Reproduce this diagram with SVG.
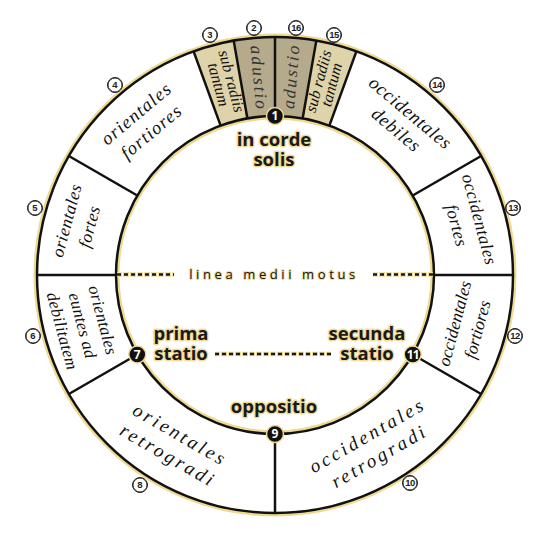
<svg xmlns="http://www.w3.org/2000/svg" width="550" height="550" viewBox="0 0 550 550">
<style>
.halo{fill:none;stroke:#efd991;stroke-width:3}
.ring{fill:none;stroke:#111;stroke-width:2.5}
.div{stroke:#111;stroke-width:2.5;fill:none}
.lab{font-family:"Liberation Serif","Times New Roman",serif;font-style:italic;fill:#111;text-anchor:middle}
.num circle{fill:#fff;stroke:#222;stroke-width:1}
.numh{fill:none;stroke:#efd991;stroke-width:3}
.numt{font-family:"Liberation Sans",Arial,sans-serif;font-weight:bold;font-size:9.5px;fill:#222;text-anchor:middle}
.node circle{fill:#111;stroke:#efd991;stroke-width:1.5}
.nodet{font-family:"Open Sans","Liberation Sans",sans-serif;font-weight:bold;font-size:12px;fill:#fff;text-anchor:middle}
.bold{font-family:"Open Sans","Liberation Sans",sans-serif;font-weight:700;font-size:18.5px;fill:#1a1a1a;text-anchor:middle;stroke:#f2dc9a;stroke-width:3;paint-order:stroke;stroke-linejoin:round}
.dots{stroke:#1a1a1a;stroke-width:2.5;stroke-dasharray:4 3;fill:none}
.dotsh{stroke:#f2dc9a;stroke-width:4.5;stroke-dasharray:6 1;stroke-dashoffset:1;fill:none}
.dark{fill:#b5aa8b}
.light{fill:#dfd3a9}
</style>
<rect x="0" y="0" width="550" height="550" fill="#fff"/>

<!-- tan sectors -->
<g id="sector3">
<path class="light" d="M193.60,51.35 A238,238 0 0 1 233.67,40.62 L247.39,118.42 A159,159 0 0 0 220.62,125.59 Z"/>
<text class="lab" font-size="16" transform="translate(223.6,83.3) rotate(75)"><tspan x="0" y="-3">sub radiis</tspan><tspan x="0" y="10.5">tantum</tspan></text>
</g>
<g id="sector2">
<path class="dark" d="M233.67,40.62 A238,238 0 0 1 275,37 L275,116 A159,159 0 0 0 247.39,118.42 Z"/>
<text class="lab" font-size="17.5" letter-spacing="2" style="fill:#333" transform="translate(257.7,77.3) rotate(85)" x="1" y="4.5">adustio</text>
</g>
<g id="sector16">
<path class="dark" d="M275,37 A238,238 0 0 1 316.33,40.62 L302.61,118.42 A159,159 0 0 0 275,116 Z"/>
<text class="lab" font-size="17.5" letter-spacing="2" style="fill:#333" transform="translate(292.3,77.3) rotate(-85)" x="1" y="4.5">adustio</text>
</g>
<g id="sector15">
<path class="light" d="M316.33,40.62 A238,238 0 0 1 356.40,51.35 L329.38,125.59 A159,159 0 0 0 302.61,118.42 Z"/>
<text class="lab" font-size="16" transform="translate(326.4,83.3) rotate(-75)"><tspan x="0" y="-3">sub radiis</tspan><tspan x="0" y="10.5">tantum</tspan></text>
</g>

<!-- rings and dividers -->
<g id="connectors">
<circle class="halo" cx="275" cy="275" r="240"/>
<circle class="halo" cx="275" cy="275" r="157"/>
<circle class="ring" cx="275" cy="275" r="238"/>
<circle class="ring" cx="275" cy="275" r="159"/>
<line class="div" x1="275" y1="37" x2="275" y2="116"/>
<line class="div" x1="233.67" y1="40.62" x2="247.39" y2="118.42"/>
<line class="div" x1="316.33" y1="40.62" x2="302.61" y2="118.42"/>
<line class="div" x1="193.60" y1="51.35" x2="220.62" y2="125.59"/>
<line class="div" x1="356.40" y1="51.35" x2="329.38" y2="125.59"/>
<line class="div" x1="481.11" y1="156" x2="412.70" y2="195.5"/>
<line class="div" x1="68.89" y1="156" x2="137.30" y2="195.5"/>
<line class="div" x1="513" y1="275" x2="434" y2="275"/>
<line class="div" x1="37" y1="275" x2="116" y2="275"/>
<line class="div" x1="481.11" y1="394" x2="412.70" y2="354.5"/>
<line class="div" x1="68.89" y1="394" x2="137.30" y2="354.5"/>
<line class="div" x1="275" y1="513" x2="275" y2="434"/>
<line class="dotsh" x1="117" y1="274.5" x2="174" y2="274.5"/>
<line class="dots" x1="117" y1="274.5" x2="174" y2="274.5"/>
<line class="dotsh" x1="373" y1="274.5" x2="433" y2="274.5"/>
<line class="dots" x1="373" y1="274.5" x2="433" y2="274.5"/>
<line class="dotsh" x1="215" y1="354" x2="331" y2="354"/>
<line class="dots" x1="215" y1="354" x2="331" y2="354"/>
</g>

<g id="sector4"><text class="lab" font-size="18.5" letter-spacing="1.2" transform="translate(145,124) rotate(-40)"><tspan x="0" y="-7.5">orientales</tspan><tspan x="0" y="16">fortiores</tspan></text></g>
<g id="sector5"><text class="lab" font-size="17.5" letter-spacing="0.5" transform="translate(80,224) rotate(-75)"><tspan x="0" y="-8">orientales</tspan><tspan x="0" y="15.5">fortes</tspan></text></g>
<g id="sector6"><text class="lab" font-size="17" letter-spacing="0.3" transform="translate(81,326) rotate(75)"><tspan x="0" y="-17">orientales</tspan><tspan x="0" y="4">euntes ad</tspan><tspan x="0" y="25">debilitatem</tspan></text></g>
<g id="sector8"><text class="lab" font-size="19" letter-spacing="3" transform="translate(172,446) rotate(30)"><tspan x="1.5" y="-7.5">orientales</tspan><tspan x="1.5" y="16.5">retrogradi</tspan></text></g>
<g id="sector10"><text class="lab" font-size="19" letter-spacing="3" transform="translate(373,448) rotate(-30)"><tspan x="1.5" y="-7.5">occidentales</tspan><tspan x="1.5" y="16.5">retrogradi</tspan></text></g>
<g id="sector12"><text class="lab" font-size="17.5" transform="translate(468,327) rotate(-75)"><tspan x="0" y="-8">occidentales</tspan><tspan x="0" y="15.5">fortiores</tspan></text></g>
<g id="sector13"><text class="lab" font-size="17.5" letter-spacing="0.5" transform="translate(466,223) rotate(75)"><tspan x="0" y="-8">occidentales</tspan><tspan x="0" y="15.5">fortes</tspan></text></g>
<g id="sector14"><text class="lab" font-size="18.5" letter-spacing="0.8" transform="translate(402,123) rotate(40)"><tspan x="0" y="-7">occidentales</tspan><tspan x="0" y="15">debiles</tspan></text></g>

<!-- numbers on rim -->
<g class="num">
<g id="n2"><circle class="numh" cx="254" cy="28" r="7.5"/><circle cx="254" cy="28" r="7"/><text class="numt" x="254" y="31.4">2</text></g>
<g id="n3"><circle class="numh" cx="210" cy="35" r="7.5"/><circle cx="210" cy="35" r="7"/><text class="numt" x="210" y="38.4">3</text></g>
<g id="n4"><circle class="numh" cx="115" cy="85" r="7.5"/><circle cx="115" cy="85" r="7"/><text class="numt" x="115" y="88.4">4</text></g>
<g id="n5"><circle class="numh" cx="35" cy="208" r="7.5"/><circle cx="35" cy="208" r="7"/><text class="numt" x="35" y="211.4">5</text></g>
<g id="n6"><circle class="numh" cx="33" cy="336" r="7.5"/><circle cx="33" cy="336" r="7"/><text class="numt" x="33" y="339.4">6</text></g>
<g id="n8"><circle class="numh" cx="140" cy="485" r="7.5"/><circle cx="140" cy="485" r="7"/><text class="numt" x="140" y="488.4">8</text></g>
<g id="n10"><circle class="numh" cx="410" cy="483" r="7.5"/><circle cx="410" cy="483" r="7"/><text class="numt" x="410" y="486.4" font-size="9" letter-spacing="-0.6">10</text></g>
<g id="n12"><circle class="numh" cx="515" cy="336" r="7.5"/><circle cx="515" cy="336" r="7"/><text class="numt" x="515" y="339.4" font-size="9" letter-spacing="-0.6">12</text></g>
<g id="n13"><circle class="numh" cx="513" cy="208" r="7.5"/><circle cx="513" cy="208" r="7"/><text class="numt" x="513" y="211.4" font-size="9" letter-spacing="-0.6">13</text></g>
<g id="n14"><circle class="numh" cx="437" cy="85" r="7.5"/><circle cx="437" cy="85" r="7"/><text class="numt" x="437" y="88.4" font-size="9" letter-spacing="-0.6">14</text></g>
<g id="n15"><circle class="numh" cx="334" cy="35" r="7.5"/><circle cx="334" cy="35" r="7"/><text class="numt" x="334" y="38.4" font-size="9" letter-spacing="-0.6">15</text></g>
<g id="n16"><circle class="numh" cx="296" cy="28" r="7.5"/><circle cx="296" cy="28" r="7"/><text class="numt" x="296" y="31.4" font-size="9" letter-spacing="-0.6">16</text></g>
</g>

<!-- black position nodes -->
<g class="node">
<g id="node1"><circle cx="275" cy="116" r="8.5"/><text class="nodet" x="275" y="120.3">1</text></g>
<g id="node7"><circle cx="137.3" cy="354.5" r="8.5"/><text class="nodet" x="137.3" y="358.8">7</text></g>
<g id="node9"><circle cx="275" cy="434" r="8.5"/><text class="nodet" x="275" y="438.3">9</text></g>
<g id="node11"><circle cx="412.7" cy="354.5" r="8.5"/><text class="nodet" x="412.7" y="358.8" font-size="11" letter-spacing="-0.8">11</text></g>
</g>

<!-- central labels -->
<g id="label-corde"><text class="bold"><tspan x="274" y="146">in corde</tspan><tspan x="274" y="166">solis</tspan></text></g>
<g id="label-prima"><text class="bold"><tspan x="181" y="340">prima</tspan><tspan x="181" y="360">statio</tspan></text></g>
<g id="label-secunda"><text class="bold"><tspan x="367" y="340">secunda</tspan><tspan x="367" y="360">statio</tspan></text></g>
<g id="label-oppositio"><text class="bold" x="274" y="413">oppositio</text></g>
<g id="label-linea"><text x="274" y="278.5" font-family="'Open Sans','Liberation Sans',sans-serif" font-size="13" letter-spacing="3.6" fill="#111" text-anchor="middle" stroke="#f2dc9a" stroke-width="2" paint-order="stroke" stroke-linejoin="round">linea medii motus</text></g>
</svg>
